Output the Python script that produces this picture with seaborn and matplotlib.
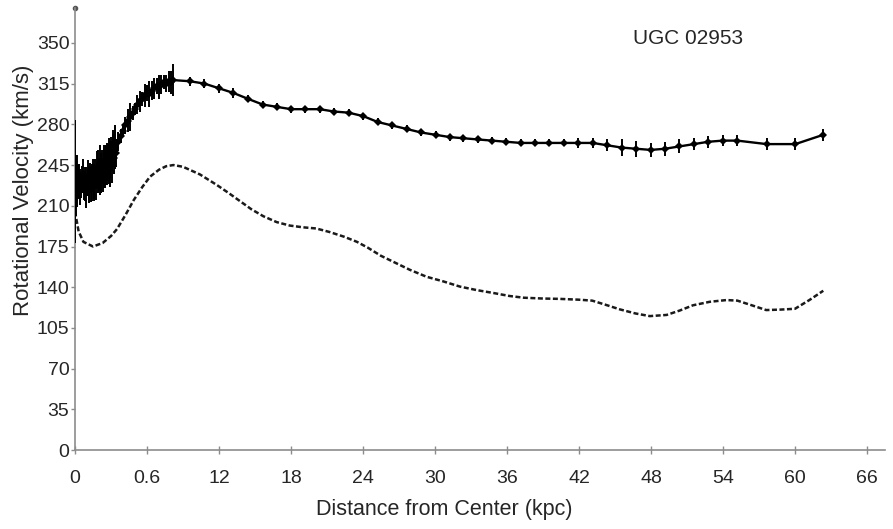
import numpy as np
import pandas as pd
import matplotlib
matplotlib.use("Agg")
import matplotlib.pyplot as plt
import seaborn as sns

# Observed rotation curve, inner (densely sampled) part:
# radius (kpc), velocity (km/s), 1-sigma error (km/s)
inner_r = [0.0, 0.05, 0.1, 0.15, 0.2, 0.25, 0.3, 0.35, 0.4, 0.45, 0.5, 0.55,
           0.6, 0.65, 0.7, 0.75, 0.8, 0.85, 0.9, 0.95, 1.0, 1.05, 1.1, 1.15,
           1.2, 1.25, 1.3, 1.35, 1.4, 1.45, 1.5, 1.55, 1.6, 1.65, 1.7, 1.75,
           1.8, 1.85, 1.9, 1.95, 2.0, 2.05, 2.1, 2.15, 2.2, 2.25, 2.3, 2.35,
           2.4, 2.45, 2.5, 2.55, 2.6, 2.65, 2.7, 2.75, 2.8, 2.85, 2.9, 2.95,
           3.0, 3.05, 3.1, 3.15, 3.2, 3.25, 3.3, 3.35, 3.4, 3.6, 3.8, 4.0,
           4.2, 4.4, 4.6, 4.8, 5.0, 5.2, 5.4, 5.6, 5.8, 6.0, 6.2, 6.4, 6.6,
           6.8, 7.0, 7.2, 7.4, 7.6, 7.8, 8.0, 8.19]
inner_v = [231, 236, 226, 224, 234, 231, 228, 236, 232, 223, 226, 230,
           233, 237, 229, 226, 224, 233, 231, 222, 227, 230, 235, 228,
           225, 236, 232, 226, 229, 234, 238, 231, 227, 239, 234, 229,
           241, 236, 230, 243, 237, 232, 244, 239, 233, 246, 240, 236,
           247, 242, 238, 249, 245, 240, 252, 247, 243, 254, 250, 245,
           256, 252, 248, 259, 258, 251, 262, 260, 255, 265, 270, 274,
           279, 283, 286, 290, 293, 297, 300, 302, 305, 307, 306, 309, 311,
           313, 312, 314, 316, 315, 317, 316, 318]
inner_err = [53, 18, 25, 15, 20, 14, 12, 10, 10, 12, 9, 9,
             11, 13, 8, 11, 10, 10, 12, 14, 9, 12, 14, 16,
             10, 11, 11, 13, 15, 12, 12, 15, 13, 11, 10, 14,
             16, 12, 9, 15, 14, 13, 18, 16, 12, 12, 11, 14,
             15, 17, 13, 13, 17, 12, 12, 16, 14, 14, 16, 19,
             13, 12, 18, 16, 14, 14, 17, 18, 12, 8, 6, 5,
             7, 10, 12, 6, 5, 8, 9, 6, 10, 7, 11, 8, 9,
             7, 10, 8, 6, 7, 9, 10, 14]

# Observed rotation curve, outer part
outer_r = [9.58, 10.78, 12.0, 13.19, 14.39, 15.64, 16.81, 18.0, 19.19, 20.39,
           21.58, 22.81, 24.03, 25.22, 26.44, 27.64, 28.83, 30.06, 31.25, 32.36,
           33.56, 34.75, 35.94, 37.14, 38.33, 39.53, 40.73, 41.94, 43.14, 44.36,
           45.56, 46.78, 47.98, 49.17, 50.36, 51.56, 52.78, 53.98, 55.19, 57.64,
           60.03, 62.36]
outer_v = [317, 315, 311, 307, 302, 297, 295, 293, 293, 293,
           291, 290, 287, 282, 279, 276, 273, 271, 269, 268,
           267, 266, 265, 264, 264, 264, 264, 264, 264, 262,
           260, 259, 258, 259, 261, 263, 265, 266, 266, 263,
           263, 271]
outer_err = [4, 4, 4, 4, 3, 3, 3, 3, 3, 3,
             3, 3, 3, 3, 3, 3, 3, 3, 3, 3,
             3, 3, 3, 3, 3, 3, 3, 4, 4, 5,
             7, 7, 6, 6, 6, 5, 5, 5, 5, 5,
             5, 5]

# Baryonic (model) contribution
mod_r = [0.0, 0.3, 0.7, 1.5, 2.3, 3.0, 3.5, 4.2, 4.9, 5.6, 6.25, 7.0, 7.6, 8.2,
         9.0, 10.4, 11.8, 12.8, 13.75, 14.7, 15.7, 16.8, 17.9, 19.0, 20.1,
         21.2, 22.4, 23.5, 24.4, 25.5, 26.5, 27.9, 29.3, 30.7, 32.1, 33.5,
         34.9, 36.2, 37.4, 39.0, 40.4, 42.0, 43.1, 44.2, 45.4, 46.7, 47.9,
         49.3, 50.4, 51.5, 52.9, 54.3, 55.2, 56.4, 57.6, 58.8, 60.0, 61.2,
         62.36]
mod_v = [205, 188, 179, 175, 178, 184, 190, 202, 215, 226, 235, 241, 244, 245,
         243.5, 237, 228, 221, 214, 207, 201, 196, 193, 191.5, 190.5,
         187.5, 183.5, 179, 174, 167, 162, 155, 149, 145, 140.5, 137.5,
         135, 132.5, 131, 130.3, 130, 129.3, 128.5, 125, 121, 117.5, 115.2,
         116.2, 120, 124.5, 127.5, 129, 128.5, 124.5, 120.4, 120.8, 121.5, 129,
         137]

x_ticks = [0, 6, 12, 18, 24, 30, 36, 42, 48, 54, 60, 66]
x_tick_labels = ["0", "0.6", "12", "18", "24", "30", "36", "42", "48", "54",
                 "60", "66"]
y_ticks = [0, 35, 70, 105, 140, 175, 210, 245, 280, 315, 350]

sns.set_style("white")
plt.rcParams["font.family"] = ["Liberation Sans", "DejaVu Sans"]

obs = pd.DataFrame({"r": inner_r + outer_r,
                    "v": inner_v + outer_v,
                    "err": inner_err + outer_err})
mod = pd.DataFrame({"r": mod_r, "v": mod_v})

fig = plt.figure(figsize=(8.93, 5.29), dpi=100)
ax = fig.add_axes([0.084, 0.149, 0.907, 0.836])

# error bars of the observed curve
ax.errorbar(obs["r"], obs["v"], yerr=obs["err"], fmt="none",
            ecolor="black", elinewidth=1.4, capsize=0, zorder=3)
# observed curve with markers
sns.lineplot(data=obs, x="r", y="v", ax=ax, color="black", linewidth=1.7,
             marker="D", markersize=4, markeredgewidth=0, sort=False,
             estimator=None, zorder=4)
# model curve, dashed
sns.lineplot(data=mod, x="r", y="v", ax=ax, color="#1a1a1a", linewidth=1.8,
             linestyle=(0, (2, 1)), sort=False, estimator=None, zorder=2)

ax.set_xlim(0, 67.5)
ax.set_ylim(0, 380)
ax.set_xticks(x_ticks)
ax.set_xticklabels(x_tick_labels)
ax.set_yticks(y_ticks)

for side in ["top", "right"]:
    ax.spines[side].set_visible(False)
for side in ["left", "bottom"]:
    ax.spines[side].set_color("#8c8c8c")
    ax.spines[side].set_linewidth(1.2)

ax.tick_params(axis="x", direction="inout", length=6, width=1,
               color="#8c8c8c", labelsize=14, pad=11, bottom=True)
ax.tick_params(axis="y", direction="out", length=3, width=1,
               color="#8c8c8c", labelsize=14, pad=1, left=True)

# small knob at the top of the value axis
ax.plot([0], [1], marker="o", markersize=3, color="#555555",
        transform=ax.transAxes, clip_on=False)

ax.set_xlabel("Distance from Center (kpc)", fontsize=15.5, labelpad=9)
ax.set_ylabel("Rotational Velocity (km/s)", fontsize=16, labelpad=2)
ax.xaxis.label.set_x(0.456)
ax.yaxis.label.set_y(0.588)

ax.text(0.689, 0.932, "UGC 02953", transform=ax.transAxes, fontsize=15,
        ha="left", va="center")

fig.savefig("out.png", dpi=100)
